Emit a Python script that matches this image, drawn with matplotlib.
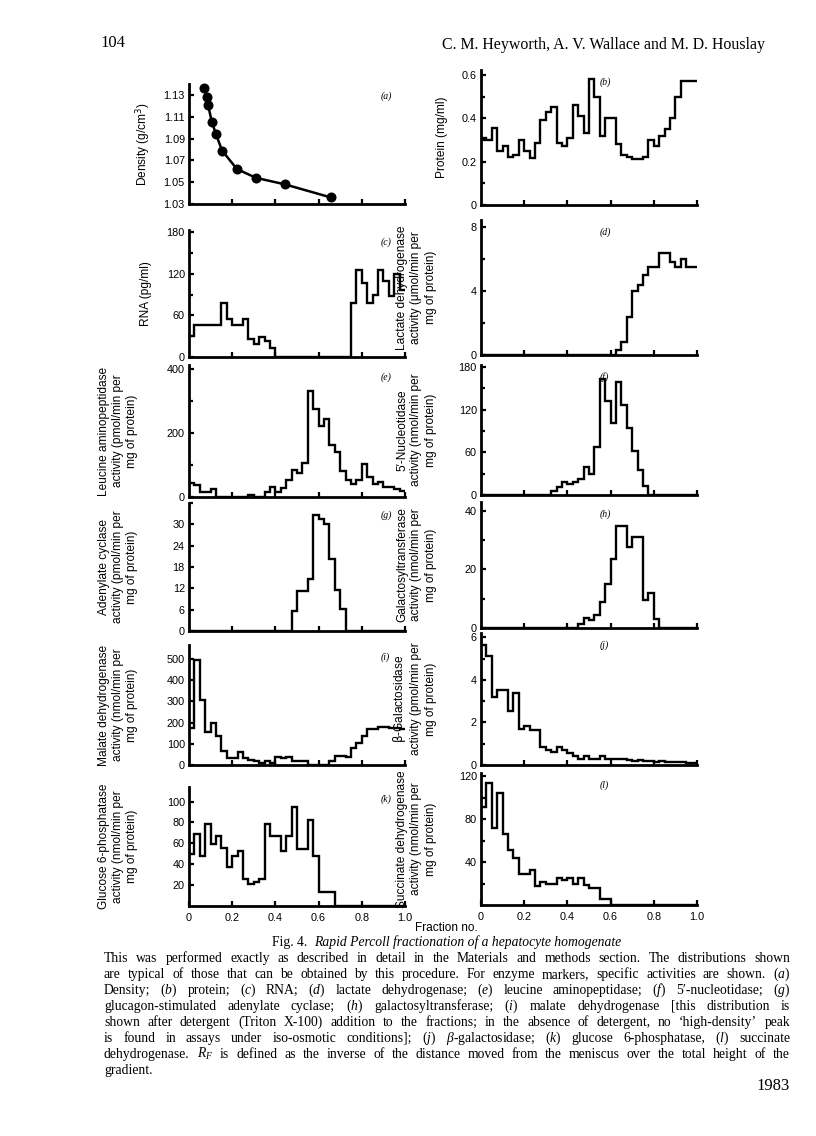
import numpy as np
import matplotlib.pyplot as plt

plt.rcParams['font.family'] = ['Liberation Sans', 'DejaVu Sans']
plt.rcParams['mathtext.fontset'] = 'custom'
plt.rcParams['mathtext.rm'] = 'Liberation Serif'
plt.rcParams['mathtext.it'] = 'Liberation Serif:italic'
plt.rcParams['mathtext.bf'] = 'Liberation Serif:bold'

SERIF = ['Liberation Serif', 'DejaVu Serif']

# fraction edges (40 fractions over the gradient)
edges = np.arange(41) / 40

# (a) density
frac_a = [0.069, 0.083, 0.088, 0.106, 0.125, 0.153, 0.222, 0.31, 0.444, 0.657]
dens_a = [1.136, 1.128, 1.121, 1.105, 1.094, 1.079, 1.062, 1.054, 1.048, 1.036]

protein = [0.31, 0.30, 0.355, 0.25, 0.27, 0.22, 0.23, 0.30, 0.25, 0.215,
           0.285, 0.39, 0.43, 0.45, 0.285, 0.27, 0.31, 0.46, 0.41, 0.33,
           0.58, 0.50, 0.32, 0.40, 0.40, 0.28, 0.23, 0.22, 0.21, 0.21,
           0.22, 0.30, 0.27, 0.32, 0.35, 0.40, 0.50, 0.57, 0.57, 0.57]
rna = ([30, 46, 46, 46, 46, 46, 78, 55, 46, 46, 55, 26, 19, 29, 23, 13]
       + [0] * 14 + [78, 126, 107, 78, 89, 126, 110, 88, 120, 96])
ldh = [0] * 25 + [0.3, 0.8, 2.4, 4.0, 4.4, 5.0, 5.5, 5.5, 6.4, 6.4,
                  5.8, 5.5, 6.0, 5.5, 5.5]
leucine = ([44, 37, 16, 16, 24, 0, 0, 0, 0, 0, 0, 5, 0, 0]
           + [16, 31, 16, 29, 52, 84, 75, 107, 330, 275, 220, 243, 162,
              141, 81, 52, 42, 54, 102, 63, 42, 47, 30, 30, 25, 20])
nucleotidase = ([0] * 13 + [6, 11, 18, 15, 19, 22, 39, 29, 68, 163, 132,
                            102, 159, 126, 95, 62, 35, 12] + [0] * 9)
adenylate = [0] * 19 + [5.5, 11.2, 11.2, 14.7, 32.5, 31.5, 30.2, 20.3,
                        11.6, 6.3] + [0] * 11
galacto = [0] * 18 + [1.5, 3.4, 2.6, 4.5, 9, 15, 23.4, 34.7, 34.7, 27.6,
                      31, 31, 9.5, 12, 3] + [0] * 7
malate = [173, 497, 308, 158, 197, 137, 68, 32, 32, 63, 32, 25, 20, 8, 19,
          8, 39, 32, 39, 19, 19, 19, 0, 0, 0, 0, 19, 44, 44, 36, 79, 106,
          137, 169, 169, 177, 177, 175, 175, 170]
betagal = [5.65, 5.1, 3.2, 3.5, 3.5, 2.55, 3.4, 1.67, 1.85, 1.64, 1.64,
           0.86, 0.7, 0.6, 0.83, 0.7, 0.55, 0.4, 0.3, 0.4, 0.27, 0.27,
           0.4, 0.27, 0.27, 0.27, 0.27, 0.25, 0.2, 0.22, 0.18, 0.2, 0.15,
           0.17, 0.15, 0.12, 0.15, 0.12, 0.1, 0.1]
g6p = [49.6, 68.8, 47.7, 79, 59, 67, 56, 37.4, 47.7, 52.8, 25.6, 21.4, 23,
       25.6, 79, 67, 67, 52.8, 67, 95, 54.4, 54.4, 82, 48, 13.4, 13.4, 13.4
       ] + [0] * 13
succinate = [91, 114, 72, 104, 66, 51, 44, 29, 29, 33, 18, 21, 20, 20, 25,
             23, 25.5, 19.6, 25, 19, 15.6, 15.6, 6, 6] + [0] * 16

W, H = 816, 1136
fig = plt.figure(figsize=(W / 100, H / 100), dpi=100)


def box(l, t, r, b):
    return [l / W, 1 - b / H, (r - l) / W, (b - t) / H]


def panel(rect, ylim, major, labels, minor, ylabel, letter, right, bottom=False):
    ax = fig.add_axes(box(*rect))
    for s in ('top', 'right'):
        ax.spines[s].set_visible(False)
    for s in ('left', 'bottom'):
        ax.spines[s].set_linewidth(2.0)
    ax.set_xlim(0, 1.0)
    ax.set_ylim(*ylim)
    ax.set_yticks(major)
    ax.set_yticklabels(labels)
    ax.set_yticks(minor, minor=True)
    if bottom:
        ax.set_xticks([0, 0.2, 0.4, 0.6, 0.8, 1.0])
        ax.set_xticklabels(['0', '0.2', '0.4', '0.6', '0.8', '1.0'])
    else:
        ax.set_xticks([0.2, 0.4, 0.6, 0.8, 1.0])
        ax.set_xticklabels([])
    ax.tick_params(direction='in', length=3.5, width=1.6, labelsize=7.8,
                   pad=3)
    ax.tick_params(which='minor', direction='in', length=3.0, width=1.6)
    ax.tick_params(axis='x', pad=5)
    nlines = ylabel.count('\n') + 1
    ax.set_ylabel(ylabel, fontsize=8.6, linespacing=1.25)
    if right:
        ax.yaxis.set_label_coords(-0.155 if nlines == 1 else -0.205, 0.5)
    else:
        ax.yaxis.set_label_coords(-0.17 if nlines == 1 else -0.236, 0.5)
    lx = 0.55 if right else 0.885
    ax.text(lx, 1 - 12 / (rect[3] - rect[1]), '(' + letter + ')',
            transform=ax.transAxes, fontsize=7, style='italic',
            family=SERIF, va='center', ha='left')
    return ax


ax = panel((189, 84, 405, 204), (1.03, 1.14),
           [1.03, 1.05, 1.07, 1.09, 1.11, 1.13],
           ['1.03', '1.05', '1.07', '1.09', '1.11', '1.13'], [],
           'Density (g/cm$^\\mathsf{3}$)', 'a', False)
ax.plot(frac_a, dens_a, color='black', lw=1.8, marker='o', ms=6.2,
        clip_on=False)

ax = panel((481, 70, 697, 205), (0, 0.623), [0, 0.2, 0.4, 0.6],
           ['0', '0.2', '0.4', '0.6'], [0.1, 0.3, 0.5],
           'Protein (mg/ml)', 'b', True)
ax.stairs(protein, edges, color='black', lw=1.7, baseline=None)

ax = panel((189, 230, 405, 357), (0, 183), [0, 60, 120, 180],
           ['0', '60', '120', '180'], [30, 90, 150],
           'RNA (pg/ml)', 'c', False)
ax.stairs(rna, edges, color='black', lw=1.7, baseline=None)

ax = panel((481, 220, 697, 355), (0, 8.44), [0, 4, 8], ['0', '4', '8'],
           [2, 6],
           'Lactate dehydrogenase\nactivity (\u03bcmol/min per\nmg of protein)',
           'd', True)
ax.stairs(ldh, edges, color='black', lw=1.7, baseline=None)

ax = panel((189, 365, 405, 497), (0, 411), [0, 200, 400],
           ['0', '200', '400'], [100, 300],
           'Leucine aminopeptidase\nactivity (pmol/min per\nmg of protein)',
           'e', False)
ax.stairs(leucine, edges, color='black', lw=1.7, baseline=None)

ax = panel((481, 365, 697, 495), (0, 183), [0, 60, 120, 180],
           ['0', '60', '120', '180'], [30, 90, 150],
           '5\u2032-Nucleotidase\nactivity (nmol/min per\nmg of protein)',
           'f', True)
ax.stairs(nucleotidase, edges, color='black', lw=1.7, baseline=None)

ax = panel((189, 503, 405, 631), (0, 36), [0, 6, 12, 18, 24, 30],
           ['0', '6', '12', '18', '24', '30'], [36],
           'Adenylate cyclase\nactivity (pmol/min per\nmg of protein)',
           'g', False)
ax.stairs(adenylate, edges, color='black', lw=1.7, baseline=None)

ax = panel((481, 502, 697, 628), (0, 43), [0, 20, 40], ['0', '20', '40'],
           [10, 30],
           'Galactosyltransferase\nactivity (nmol/min per\nmg of protein)',
           'h', True)
ax.stairs(galacto, edges, color='black', lw=1.7, baseline=None)

ax = panel((189, 645, 405, 765), (0, 566), [0, 100, 200, 300, 400, 500],
           ['0', '100', '200', '300', '400', '500'], [],
           'Malate dehydrogenase\nactivity (nmol/min per\nmg of protein)',
           'i', False)
ax.stairs(malate, edges, color='black', lw=1.7, baseline=None)

ax = panel((481, 633, 697, 765), (0, 6.2), [0, 2, 4, 6],
           ['0', '2', '4', '6'], [1, 3, 5],
           '$\\mathsf{\\beta}$-Galactosidase\nactivity (pmol/min per\nmg of protein)',
           'j', True)
ax.stairs(betagal, edges, color='black', lw=1.7, baseline=None)

ax = panel((189, 787, 405, 906), (0, 114), [20, 40, 60, 80, 100],
           ['20', '40', '60', '80', '100'], [],
           'Glucose 6-phosphatase\nactivity (nmol/min per\nmg of protein)',
           'k', False, bottom=True)
ax.stairs(g6p, edges, color='black', lw=1.7, baseline=None)

ax = panel((481, 773, 697, 905), (0, 123), [40, 80, 120],
           ['40', '80', '120'], [20, 60, 100],
           'Succinate dehydrogenase\nactivity (nmol/min per\nmg of protein)',
           'l', True, bottom=True)
ax.stairs(succinate, edges, color='black', lw=1.7, baseline=None)

fig.text(446 / W, 1 - 928 / H, 'Fraction no.', fontsize=8.6,
         ha='center', va='center')

# page header
fig.text(100 / W, 1 - 47 / H, '104', family=SERIF, fontsize=12,
         va='baseline')
fig.text(442 / W, 1 - 49 / H,
         'C. M. Heyworth, A. V. Wallace and M. D. Houslay',
         family=SERIF, fontsize=11.4, va='baseline')

# caption
renderer = fig.canvas.get_renderer()
X0, X1 = 104, 790
CS = 9.8


def justified(line, y, last=False):
    words = line.split(' ')
    ts = [fig.text(0, 1 - y / H, w, fontsize=CS, family=SERIF,
                   va='baseline') for w in words]
    ws = [t.get_window_extent(renderer).width for t in ts]
    if last:
        gap = 3.5
    else:
        gap = (X1 - X0 - sum(ws)) / (len(ws) - 1)
    x = X0
    for t, w in zip(ts, ws):
        t.set_x(x / W)
        x += w + gap


t1 = fig.text(0, 1 - 946 / H, 'Fig. 4.  ', fontsize=CS, family=SERIF,
              va='baseline')
t2 = fig.text(0, 1 - 946 / H,
              'Rapid Percoll fractionation of a hepatocyte homogenate',
              fontsize=CS, family=SERIF, style='italic', va='baseline')
w1 = t1.get_window_extent(renderer).width
w2 = t2.get_window_extent(renderer).width
xs = (X0 + X1) / 2 - (w1 + w2) / 2
t1.set_x(xs / W)
t2.set_x((xs + w1) / W)

lines = [
    'This was performed exactly as described in detail in the Materials '
    'and methods section. The distributions shown',
    'are typical of those that can be obtained by this procedure. For '
    'enzyme markers, specific activities are shown. ($\\mathit{a}$)',
    'Density; ($\\mathit{b}$) protein; ($\\mathit{c}$) RNA; ($\\mathit{d}$) '
    'lactate dehydrogenase; ($\\mathit{e}$) leucine aminopeptidase; '
    '($\\mathit{f}$) 5\u2032-nucleotidase; ($\\mathit{g}$)',
    'glucagon-stimulated adenylate cyclase; ($\\mathit{h}$) '
    'galactosyltransferase; ($\\mathit{i}$) malate dehydrogenase [this '
    'distribution is',
    'shown after detergent (Triton X-100) addition to the fractions; in '
    'the absence of detergent, no \u2018high-density\u2019 peak',
    'is found in assays under iso-osmotic conditions]; ($\\mathit{j}$) '
    '$\\mathit{\\beta}$-galactosidase; ($\\mathit{k}$) glucose '
    '6-phosphatase, ($\\mathit{l}$) succinate',
    'dehydrogenase. $\\mathit{R_F}$ is defined as the inverse of the '
    'distance moved from the meniscus over the total height of the',
]
for i, ln in enumerate(lines):
    justified(ln, 962 + 16 * i)
justified('gradient.', 962 + 16 * len(lines), last=True)

fig.text(X1 / W, 1 - 1090 / H, '1983', family=SERIF, fontsize=12,
         ha='right', va='baseline')

fig.savefig('out.png', dpi=100)
